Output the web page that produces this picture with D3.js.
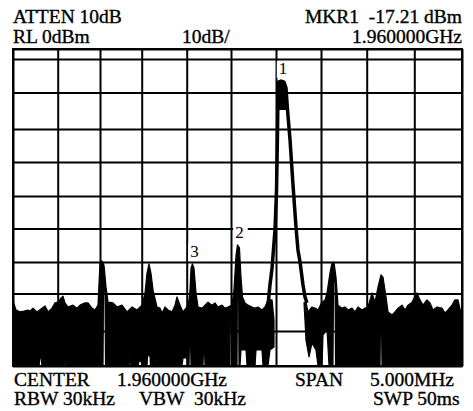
<!DOCTYPE html>
<html>
<head>
<meta charset="utf-8">
<script src="https://cdnjs.cloudflare.com/ajax/libs/d3/7.8.5/d3.min.js"></script>
<style>
  html, body { margin: 0; padding: 0; background: #fff; }
  svg text { font-family: "Liberation Serif", "Times New Roman", serif; fill: #000; white-space: pre; }
</style>
</head>
<body>
<div id="chart"></div>
<script>
//Width and height
var w = 473;
var h = 411;

//Annotation texts
var topLeftLabels = ["ATTEN 10dB", "RL 0dBm"];
var scaleLabel = "10dB/";
var topRightLabels = ["MKR1  -17.21 dBm", "1.960000GHz"];
var bottomRow1 = ["CENTER", "1.960000GHz", "SPAN", "5.000MHz"];
var bottomRow2 = ["RBW 30kHz", "VBW", "30kHz", "SWP 50ms"];

//Frequency offset from center (kHz) and level (dBm) divisions
var freqTicks = d3.range(-2500, 2501, 500);
var levelTicks = [3, 0, -10, -20, -30, -40, -50, -60, -70, -80, -90];

//Where the photographed screen puts each division (the scan is slightly warped)
var screenX = [13, 57.7, 100, 141.7, 186.7, 231, 276, 321, 366.7, 414.3, 462];
var screenY = [49, 59, 92.5, 129, 162, 196, 228.5, 262, 293.5, 331, 366];

//Noise floor, left of the carrier: upper envelope [kHz, dBm]
var leftTop = [
  [-2500,-72.0],[-2466,-74.4],[-2422,-74.9],[-2377,-74.7],[-2332,-74.4],[-2310,-74.7],[-2276,-73.9],
  [-2232,-74.9],[-2176,-73.9],[-2142,-73.3],[-2108,-74.9],[-2064,-73.9],[-2030,-72.5],[-1996,-72.3],
  [-1961,-71.2],[-1937,-70.7],[-1914,-72.5],[-1878,-73.6],[-1819,-73.1],[-1772,-73.9],[-1736,-73.1],
  [-1677,-72.5],[-1642,-72.5],[-1595,-73.9],[-1559,-74.4],[-1524,-73.1],[-1500,-60.3],[-1476,-59.7],
  [-1452,-61.0],[-1428,-67.9],[-1404,-72.3],[-1344,-72.5],[-1296,-73.6],[-1236,-73.1],[-1176,-74.9],
  [-1116,-73.6],[-1056,-74.4],[-997,-73.1],[-963,-69.8],[-941,-63.5],[-919,-60.6],[-897,-63.5],
  [-874,-68.9],[-830,-73.6],[-797,-73.9],[-774,-75.2],[-741,-73.6],[-708,-74.4],[-663,-74.9],
  [-630,-73.1],[-608,-70.9],[-574,-73.1],[-541,-74.9],[-497,-73.6],[-474,-71.7],[-463,-68.9],
  [-451,-61.9],[-435,-60.6],[-418,-61.9],[-395,-69.8],[-372,-73.6],[-327,-73.9],[-293,-73.1],
  [-259,-72.3],[-215,-73.1],[-181,-72.5],[-147,-73.6],[-102,-73.1],[-68,-73.9],[-34,-73.6],
  [11,-73.1],[33,-68.9],[56,-57.9],[72,-54.9],[94,-55.8],[111,-64.8],[128,-70.9],[156,-72.5],
  [189,-73.1],[233,-73.6],[267,-73.9],[300,-73.6],[344,-74.4],[378,-73.6],[411,-71.7],[456,-71.7],
  [478,-77.1],[478,-84.6]
];

//Noise floor, left of the carrier: lower envelope [kHz, dBm]
var leftBottom = [
  [-2500,-90],[-2209,-90],[-2198,-87.4],[-2187,-87.4],[-2176,-90],
  [-1926,-90],[-1914,-88.3],[-1902,-90],
  [-1464,-90],[-1458,-69.5],[-1440,-69.5],[-1434,-90],
  [-1152,-90],[-1140,-87.4],[-1128,-90],
  [-1044,-90],[-1032,-88.6],[-1008,-88.6],[-997,-90],
  [-941,-90],[-936,-87.1],[-908,-87.1],[-902,-90],
  [-858,-90],[-852,-87.7],[-841,-90],
  [-552,-90],[-541,-87.7],[-497,-87.7],[-485,-90],
  [-474,-90],[-468,-82.6],[-457,-82.6],[-451,-90],
  [-316,-90],[-310,-85.4],[-299,-85.4],[-293,-90],
  [-17,-90],[-11,-75.2],[0,-75.2],[6,-90],
  [67,-90],[72,-61.9],[83,-61.9],[89,-90],
  [100,-90],[111,-85.4],[167,-85.4],[178,-90],
  [267,-90],[278,-85.4],[344,-85.4],[356,-90],
  [389,-90],[400,-88.3],[411,-90],
  [433,-85.4],[478,-84.6]
];

//Noise floor, right of the carrier: upper envelope [kHz, dBm]
var rightTop = [
  [811,-72.5],[833,-72.3],[856,-74.9],[900,-73.6],[933,-73.9],[967,-74.4],[1011,-72.3],[1044,-71.7],
  [1066,-69.8],[1098,-63.5],[1120,-60.3],[1142,-60.0],[1164,-64.8],[1186,-73.1],[1230,-73.9],
  [1263,-73.6],[1295,-74.4],[1339,-73.9],[1372,-74.9],[1405,-73.6],[1449,-74.4],[1481,-73.9],
  [1514,-73.6],[1556,-69.8],[1587,-72.3],[1619,-67.9],[1650,-64.1],[1671,-64.8],[1703,-70.9],
  [1724,-74.9],[1766,-75.7],[1797,-74.9],[1829,-73.9],[1871,-73.1],[1902,-74.4],[1934,-73.1],
  [1976,-72.3],[2028,-69.8],[2060,-71.7],[2091,-73.1],[2133,-71.7],[2165,-72.5],[2196,-74.4],
  [2238,-73.6],[2290,-73.9],[2322,-75.2],[2353,-74.4],[2395,-73.1],[2426,-71.7],[2458,-71.7],
  [2489,-75.2],[2500,-75.2]
];

//Noise floor, right of the carrier: lower envelope [kHz, dBm]
var rightBottom = [
  [811,-72.5],[822,-77.1],[833,-82.6],[867,-87.4],[900,-83.4],[944,-85.4],[967,-90],
  [1011,-90],[1022,-81.1],[1066,-79.7],[1088,-90],
  [1131,-90],[1137,-66.3],[1153,-66.3],[1159,-90],
  [1640,-90],[1645,-77.1],[1655,-77.1],[1661,-90],
  [2500,-90]
];

//Carrier trace [kHz, dBm]
var carrier = [
  [411,-73.1],[433,-67.3],[456,-61.9],[489,-50.4],[506,-38.2],[517,-20.3],[520,-14.8],[522,-10.7],
  [528,-6.9],[556,-6.6],[589,-6.9],[611,-8.7],[628,-14.8],[656,-23.3],[689,-36.8],[722,-49.5],
  [744,-56.4],[767,-60.0],[800,-67.3],[822,-70.9],[844,-72.5]
];

//Markers
var markerLabels = ["1", "2", "3"];
var markerFreqs = [556, 72, -435];
var markerLevels = [-6.6, -54.9, -60.6];

//Scales (piecewise, one piece per division)
var xScale = d3.scaleLinear().domain(freqTicks).range(screenX);
var yScale = d3.scaleLinear().domain(levelTicks).range(screenY);

var line = d3.line()
  .x(function(d){ return xScale(d[0]); })
  .y(function(d){ return yScale(d[1]); });

//Create SVG element
var svg = d3.select("#chart")
  .append("svg")
  .attr("width", w)
  .attr("height", h);

svg.append("rect").attr("width", w).attr("height", h).attr("fill", "#fff");

//Grid, drawn with axes
var plotH = yScale(-90) - yScale(3);
var plotW = xScale(2500) - xScale(-2500);

svg.append("g")
  .attr("class", "grid x")
  .attr("transform", "translate(0," + yScale(-90) + ")")
  .call(d3.axisBottom(xScale).tickValues(freqTicks).tickSizeInner(-plotH).tickSizeOuter(0).tickFormat(""));

svg.append("g")
  .attr("class", "grid y")
  .attr("transform", "translate(" + xScale(-2500) + ",0)")
  .call(d3.axisLeft(yScale).tickValues(levelTicks).tickSizeInner(-plotW).tickSizeOuter(0).tickFormat(""));

svg.selectAll(".domain").remove();
svg.selectAll(".tick line").attr("stroke", "#000").attr("stroke-width", 2);

//Frame
svg.append("rect")
  .attr("x", xScale(-2500))
  .attr("y", yScale(3))
  .attr("width", plotW)
  .attr("height", plotH)
  .attr("fill", "none")
  .attr("stroke", "#000")
  .attr("stroke-width", 2);

//Noise blocks: upper envelope, then lower envelope back
var blocks = [
  leftTop.concat(leftBottom.slice().reverse()),
  rightTop.concat(rightBottom.slice().reverse())
];

svg.selectAll("path.noise")
  .data(blocks)
  .enter()
  .append("path")
  .attr("class", "noise")
  .attr("d", function(d){ return line(d) + "Z"; })
  .attr("fill", "#000")
  .attr("stroke", "#000")
  .attr("stroke-width", 1.2)
  .attr("stroke-linejoin", "round");

//Carrier: solid cap near the top, then trace
svg.append("path")
  .attr("d", line(carrier.filter(function(d){ return d[1] >= -15; })) + "Z")
  .attr("fill", "#000");

svg.append("path")
  .attr("d", line(carrier))
  .attr("fill", "none")
  .attr("stroke", "#000")
  .attr("stroke-width", 3.5)
  .attr("stroke-linejoin", "round");

//Marker labels with white backing
var markers = svg.selectAll("g.marker")
  .data(markerLabels)
  .enter()
  .append("g")
  .attr("class", "marker");

markers.append("text")
  .attr("x", function(d, i){ return xScale(markerFreqs[i]) + 2; })
  .attr("y", function(d, i){ return yScale(markerLevels[i]) - 7; })
  .attr("text-anchor", "middle")
  .style("font-size", "17px")
  .text(function(d){ return d; });

markers.each(function(){
  var g = d3.select(this);
  var b = g.select("text").node().getBBox();
  g.insert("rect", "text")
    .attr("x", b.x - 2)
    .attr("y", b.y + 2)
    .attr("width", b.width + 6)
    .attr("height", b.height - 2)
    .attr("fill", "#fff");
});

//Header and footer texts
var fs = "19.5px";

function label(sel){
  sel.style("font-size", fs)
    .attr("stroke", "#000")
    .attr("stroke-width", 0.35);
}

svg.selectAll("text.tl")
  .data(topLeftLabels)
  .enter()
  .append("text")
  .attr("class", "tl")
  .attr("x", 13)
  .attr("y", function(d, i){ return 23 + i * 20; })
  .call(label)
  .text(function(d){ return d; });

svg.append("text")
  .attr("x", 182)
  .attr("y", 43)
  .call(label)
  .text(scaleLabel);

svg.selectAll("text.tr")
  .data(topRightLabels)
  .enter()
  .append("text")
  .attr("class", "tr")
  .attr("x", 462)
  .attr("y", function(d, i){ return 23 + i * 20; })
  .attr("text-anchor", "end")
  .call(label)
  .text(function(d){ return d; });

var row1X = [14, 117, 295, 370];
var row2X = [14, 139, 194, 373];

svg.selectAll("text.b1")
  .data(bottomRow1)
  .enter()
  .append("text")
  .attr("class", "b1")
  .attr("x", function(d, i){ return row1X[i]; })
  .attr("y", 386)
  .call(label)
  .text(function(d){ return d; });

svg.selectAll("text.b2")
  .data(bottomRow2)
  .enter()
  .append("text")
  .attr("class", "b2")
  .attr("x", function(d, i){ return row2X[i]; })
  .attr("y", 405)
  .call(label)
  .text(function(d){ return d; });
</script>
</body>
</html>
